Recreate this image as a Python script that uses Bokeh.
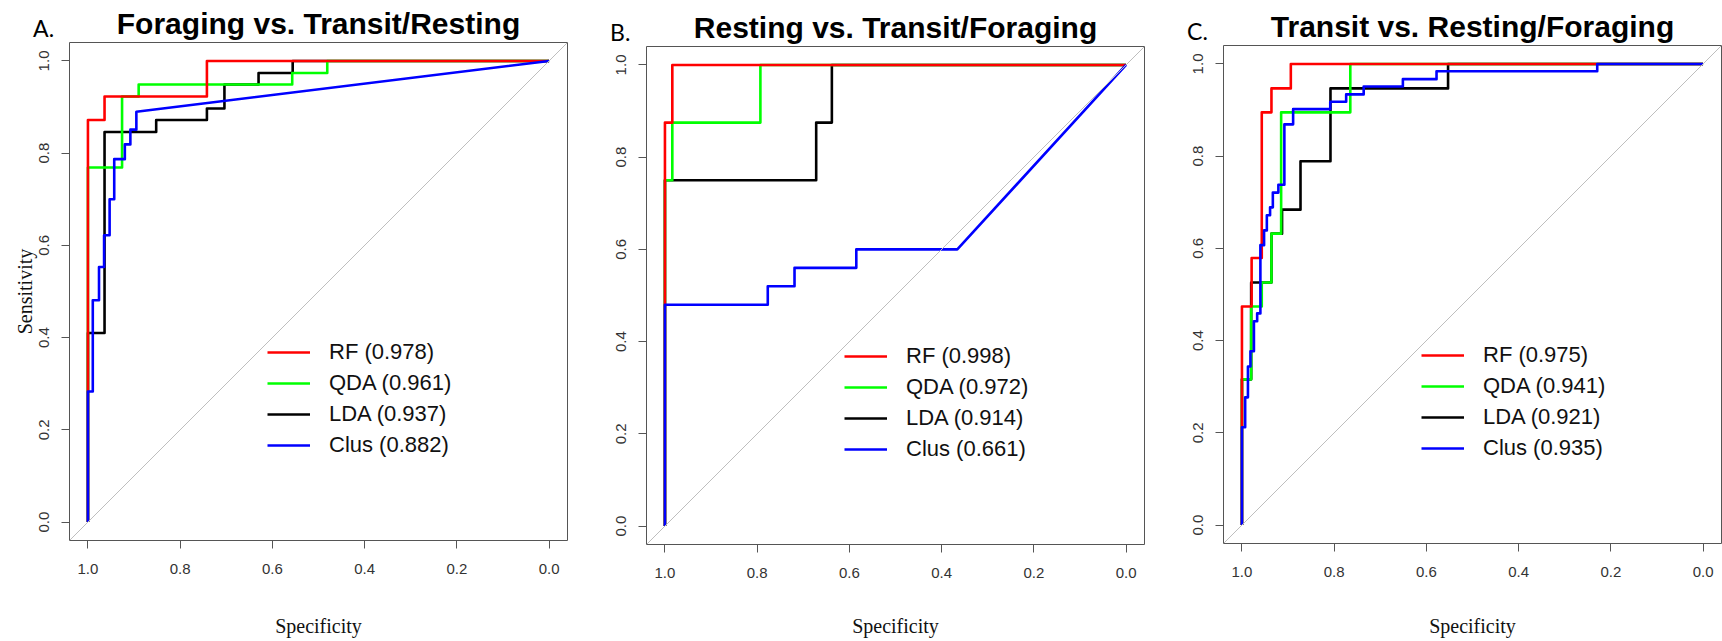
from bokeh.plotting import figure
from bokeh.models import Range1d, FixedTicker, NumeralTickFormatter, Slope, Legend, LegendItem
from bokeh.core.properties import value
from bokeh.layouts import row, column
from bokeh.embed import file_html
from bokeh.resources import INLINE

tick_values = [0.0, 0.2, 0.4, 0.6, 0.8, 1.0]
model_names = ["RF", "QDA", "LDA", "Clus"]
model_colors = ["#FF0000", "#00FF00", "#000000", "#0000FF"]

# ---- A. Foraging vs. Transit/Resting ----
a_title = "Foraging vs. Transit/Resting"
a_auc = [0.978, 0.961, 0.937, 0.882]
a_rf_spec = [1.0, 1.0, 0.964, 0.964, 0.742, 0.742, 0.0]
a_rf_sens = [0.0, 0.872, 0.872, 0.923, 0.923, 1.0, 1.0]
a_qda_spec = [1.0, 1.0, 0.926, 0.926, 0.890, 0.890, 0.557, 0.557, 0.481, 0.481, 0.0]
a_qda_sens = [0.0, 0.769, 0.769, 0.923, 0.923, 0.949, 0.949, 0.974, 0.974, 1.0, 1.0]
a_lda_spec = [1.0, 1.0, 0.964, 0.964, 0.852, 0.852, 0.742, 0.742, 0.704, 0.704, 0.630, 0.630, 0.556, 0.556, 0.0]
a_lda_sens = [0.0, 0.410, 0.410, 0.846, 0.846, 0.872, 0.872, 0.897, 0.897, 0.949, 0.949, 0.974, 0.974, 1.0, 1.0]
a_clus_spec = [1.0, 1.0, 0.9895, 0.9895, 0.976, 0.976, 0.965, 0.965, 0.953, 0.953, 0.943, 0.943,
               0.920, 0.920, 0.908, 0.908, 0.895, 0.895, 0.0]
a_clus_sens = [0.0, 0.283, 0.283, 0.481, 0.481, 0.553, 0.553, 0.622, 0.622, 0.700, 0.700, 0.787,
               0.787, 0.819, 0.819, 0.851, 0.851, 0.890, 1.0]

# ---- B. Resting vs. Transit/Foraging ----
b_title = "Resting vs. Transit/Foraging"
b_auc = [0.998, 0.972, 0.914, 0.661]
b_rf_spec = [1.0, 1.0, 0.984, 0.984, 0.0]
b_rf_sens = [0.0, 0.875, 0.875, 1.0, 1.0]
b_qda_spec = [1.0, 1.0, 0.984, 0.984, 0.793, 0.793, 0.0]
b_qda_sens = [0.0, 0.75, 0.75, 0.875, 0.875, 1.0, 1.0]
b_lda_spec = [1.0, 1.0, 0.672, 0.672, 0.638, 0.638, 0.0]
b_lda_sens = [0.0, 0.75, 0.75, 0.875, 0.875, 1.0, 1.0]
b_clus_spec = [1.0, 1.0, 0.777, 0.777, 0.719, 0.719, 0.585, 0.585, 0.366, 0.0]
b_clus_sens = [0.0, 0.48, 0.48, 0.52, 0.52, 0.56, 0.56, 0.60, 0.60, 1.0]

# ---- C. Transit vs. Resting/Foraging ----
c_title = "Transit vs. Resting/Foraging"
c_auc = [0.975, 0.941, 0.921, 0.935]
c_rf_spec = [1.0, 1.0, 0.979, 0.979, 0.957, 0.957, 0.936, 0.936, 0.894, 0.894, 0.0]
c_rf_sens = [0.0, 0.474, 0.474, 0.579, 0.579, 0.895, 0.895, 0.947, 0.947, 1.0, 1.0]
c_qda_spec = [1.0, 1.0, 0.980, 0.980, 0.957, 0.957, 0.936, 0.936, 0.915, 0.915, 0.765, 0.765, 0.0]
c_qda_sens = [0.0, 0.316, 0.316, 0.474, 0.474, 0.526, 0.526, 0.632, 0.632, 0.895, 0.895, 1.0, 1.0]
c_lda_spec = [1.0, 1.0, 0.980, 0.980, 0.936, 0.936, 0.913, 0.913, 0.873, 0.873, 0.808, 0.808, 0.553, 0.553, 0.0]
c_lda_sens = [0.0, 0.316, 0.316, 0.526, 0.526, 0.632, 0.632, 0.684, 0.684, 0.789, 0.789, 0.947, 0.947, 1.0, 1.0]
c_clus_spec = [1.0, 1.0, 0.993, 0.993, 0.987, 0.987, 0.9815, 0.9815, 0.974, 0.974, 0.967, 0.967,
               0.960, 0.960, 0.952, 0.952, 0.946, 0.946, 0.939, 0.939, 0.933, 0.933, 0.921, 0.921,
               0.908, 0.908, 0.889, 0.889, 0.8085, 0.8085, 0.774, 0.774, 0.736, 0.736, 0.651, 0.651,
               0.578, 0.578, 0.2295, 0.2295, 0.0]
c_clus_sens = [0.0, 0.212, 0.212, 0.277, 0.277, 0.344, 0.344, 0.377, 0.377, 0.442, 0.442, 0.459,
               0.459, 0.607, 0.607, 0.639, 0.639, 0.672, 0.672, 0.689, 0.689, 0.721, 0.721, 0.738,
               0.738, 0.869, 0.869, 0.902, 0.902, 0.918, 0.918, 0.934, 0.934, 0.951, 0.951, 0.967,
               0.967, 0.984, 0.984, 1.0, 1.0]

FRAME = 498
HEIGHT = 641
LEFT = 69
X_LO, X_HI = 1.04, -0.04           # reversed specificity axis
Y_LO, Y_HI = -0.04, 1.04
SCALE = FRAME / (X_LO - X_HI)      # pixels per unit, same on both axes
AXIS_GREY = "#555555"


def make_header(letter, title, width, height):
    """Strip above the plot box holding the panel letter and the title."""
    h = figure(width=width, height=height,
               x_range=Range1d(X_LO + LEFT / SCALE, X_LO - (width - LEFT) / SCALE),
               y_range=Range1d(Y_HI, Y_HI + height / SCALE),
               x_axis_type=None, y_axis_type=None, title_location=None,
               output_backend="svg", toolbar_location=None,
               min_border=0, min_border_left=0, min_border_right=0,
               min_border_top=0, min_border_bottom=0)
    h.xgrid.visible = False
    h.ygrid.visible = False
    h.outline_line_color = None
    h.background_fill_color = "white"
    h.border_fill_color = "white"
    h.text(x=[0.5], y=[1.0818], text=[title], text_align="center",
           text_baseline="middle", text_font=value("Liberation Sans"),
           text_font_style="bold", text_font_size="30px", text_color="black")
    h.text(x=[1.119], y=[1.0715], text=[letter], text_align="left",
           text_baseline="middle", text_font=value("Lato"),
           text_font_size="23px", text_color="black")
    return h


def make_panel(curves, aucs, width, top, x_label_standoff, show_ylabel):
    p = figure(width=width, height=HEIGHT - top,
               x_range=Range1d(X_LO, X_HI), y_range=Range1d(Y_LO, Y_HI),
               output_backend="svg", toolbar_location=None,
               min_border_left=LEFT, min_border_right=width - LEFT - FRAME,
               min_border_top=0, min_border_bottom=HEIGHT - top - FRAME)
    p.xgrid.visible = False
    p.ygrid.visible = False
    p.outline_line_color = AXIS_GREY
    p.outline_line_width = 1
    p.background_fill_color = "white"
    p.border_fill_color = "white"

    for ax in (p.xaxis[0], p.yaxis[0]):
        ax.ticker = FixedTicker(ticks=tick_values)
        ax.formatter = NumeralTickFormatter(format="0.0")
        ax.axis_line_color = None
        ax.major_tick_in = 0
        ax.major_tick_out = 8
        ax.major_tick_line_color = AXIS_GREY
        ax.minor_tick_line_color = None
        ax.major_label_text_font = "Liberation Sans"
        ax.major_label_text_font_size = "15px"
        ax.major_label_text_color = "#333333"
        ax.axis_label_text_font = "Liberation Serif"
        ax.axis_label_text_font_style = "normal"
        ax.axis_label_text_font_size = "20px"
        ax.axis_label_text_color = "#111111"

    p.xaxis.major_label_standoff = 15
    p.xaxis.axis_label = "Specificity"
    p.xaxis.axis_label_standoff = x_label_standoff
    p.yaxis.major_label_orientation = "vertical"
    p.yaxis.major_label_standoff = 12
    if show_ylabel:
        p.yaxis.axis_label = "Sensitivity"
        p.yaxis.axis_label_standoff = 1

    # chance diagonal
    p.add_layout(Slope(gradient=-1, y_intercept=1, line_color="#BEBEBE", line_width=1))

    # draw order: LDA, QDA, RF, Clus (Clus on top)
    renderers = {}
    for idx in (2, 1, 0, 3):
        spec, sens = curves[idx]
        renderers[idx] = p.line(spec, sens, line_color=model_colors[idx], line_width=2.6,
                                line_join="round")

    items = [LegendItem(label=f"{model_names[i]} ({aucs[i]:.3f})", renderers=[renderers[i]])
             for i in range(4)]
    legend = Legend(items=items, location=(198, 82), glyph_width=43, glyph_height=26,
                    label_height=26, spacing=5, label_standoff=19, padding=0, margin=0,
                    border_line_color=None, background_fill_alpha=0,
                    label_text_font="Liberation Sans", label_text_font_size="22px",
                    label_text_color="#111111")
    p.add_layout(legend)
    return p


def make_column(letter, title, curves, aucs, width, top, x_label_standoff, show_ylabel):
    # each figure sits in its own row so the header keeps its own borders
    return column(row(make_header(letter, title, width, top)),
                  row(make_panel(curves, aucs, width, top, x_label_standoff, show_ylabel)),
                  spacing=0)


col_a = make_column("A.", a_title,
                    [(a_rf_spec, a_rf_sens), (a_qda_spec, a_qda_sens),
                     (a_lda_spec, a_lda_sens), (a_clus_spec, a_clus_sens)],
                    a_auc, 577, 42, 38, True)
col_b = make_column("B.", b_title,
                    [(b_rf_spec, b_rf_sens), (b_qda_spec, b_qda_sens),
                     (b_lda_spec, b_lda_sens), (b_clus_spec, b_clus_sens)],
                    b_auc, 577, 46, 34, False)
col_c = make_column("C.", c_title,
                    [(c_rf_spec, c_rf_sens), (c_qda_spec, c_qda_sens),
                     (c_lda_spec, c_lda_sens), (c_clus_spec, c_clus_sens)],
                    c_auc, 568, 45, 35, False)

layout = row(col_a, col_b, col_c, spacing=0)
open("out.html", "w").write(file_html(layout, INLINE))
